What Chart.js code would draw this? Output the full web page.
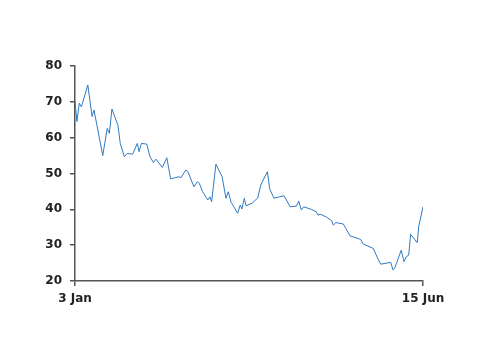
<!DOCTYPE html>
<html>
<head>
<meta charset="utf-8">
<script src="https://cdn.jsdelivr.net/npm/chart.js@4"></script>
<style>
  html, body { margin: 0; padding: 0; background: #fff; }
  #wrap { width: 500px; height: 353px; }
</style>
</head>
<body>
<div id="wrap"><canvas id="priceChart"></canvas></div>
<script>
// days since 3 Jan
const days = [0, 0.9, 2.0, 3.0, 6.0, 8.0, 8.9, 13.0, 15.1, 16.1, 17.3, 20.1, 21.2, 23.1, 24.4, 27.0,
  29.2, 30.0, 31.1, 33.6, 35.1, 36.7, 37.9, 40.9, 43.0, 44.8, 46.7, 48.7, 49.6, 51.9, 52.9,
  55.7, 57.3, 58.2, 59.8, 62.2, 63.2, 64.0, 66.0, 68.9, 70.7, 71.8, 73.1, 76.2, 77.4, 78.2,
  79.3, 80.1, 82.9, 84.5, 85.6, 87.0, 90.1, 91.2, 93.2, 97.9, 100.8, 103.7, 104.8, 106.0,
  107.1, 110.7, 113.0, 113.8, 115.1, 117.9, 120.2, 121.0, 122.2, 125.7, 127.3, 128.8, 133.8,
  135.0, 139.7, 142.1, 143.2, 147.9, 148.9, 149.7, 152.8, 154.1, 155.2, 156.3, 157.2, 160.3,
  161.0, 163];
const prices = [70.2, 64.5, 69.6, 68.6, 74.7, 65.9, 67.7, 55.0, 62.6, 61.2, 68.0, 63.5, 58.4, 54.7, 55.6, 55.4,
  58.4, 56.1, 58.4, 58.2, 54.7, 53.1, 54.0, 51.7, 54.4, 48.5, 48.8, 49.1, 48.8, 51.0, 50.5,
  46.3, 47.7, 47.3, 44.9, 42.6, 43.5, 42.1, 52.6, 49.1, 43.1, 44.9, 42.0, 38.9, 41.2, 40.1,
  43.1, 41.0, 41.7, 42.6, 43.1, 46.8, 50.5, 45.7, 43.1, 43.8, 40.7, 40.9, 42.3, 39.8,
  40.7, 40.0, 39.3, 38.4, 38.6, 37.8, 36.8, 35.6, 36.3, 35.9, 34.2, 32.6, 31.6,
  30.3, 29.1, 25.9, 24.7, 25.2, 23.1, 23.5, 28.6, 25.4, 26.8, 27.2, 33.0, 30.7,
  35.2, 40.7];
const xTickValues = [0, 163];
const xTickLabels = ['3 Jan', '15 Jun'];
const yTicks = [20, 30, 40, 50, 60, 70, 80];

const points = days.map((d, i) => ({x: d, y: prices[i]}));
const axisColor = '#555';
const tickFont = {family: 'DejaVu Sans', size: 12, weight: 'bold'};

new Chart(document.getElementById('priceChart'), {
    type: 'line',
    data: {
        datasets: [{
            data: points,
            borderColor: '#3179c0',
            borderWidth: 1,
            pointRadius: 0,
            tension: 0,
            fill: false
        }]
    },
    options: {
        responsive: true,
        maintainAspectRatio: false,
        animation: false,
        layout: {padding: {top: 66, right: 77, left: 0, bottom: 0}},
        plugins: {legend: {display: false}, tooltip: {enabled: false}},
        scales: {
            x: {
                type: 'linear',
                min: 0,
                max: 163,
                afterBuildTicks: function(scale) {
                    scale.ticks = xTickValues.map(v => ({value: v}));
                },
                afterFit: function(scale) { scale.height = 72; },
                ticks: {
                    autoSkip: false,
                    maxRotation: 0,
                    padding: 6,
                    color: '#222',
                    font: tickFont,
                    callback: function(value) {
                        return xTickLabels[xTickValues.indexOf(value)];
                    }
                },
                grid: {drawOnChartArea: false, tickLength: 5, color: axisColor, lineWidth: 1.5},
                border: {color: axisColor, width: 1.5}
            },
            y: {
                min: 20,
                max: 80,
                afterBuildTicks: function(scale) {
                    scale.ticks = yTicks.map(v => ({value: v}));
                },
                afterFit: function(scale) { scale.width = 75; },
                ticks: {
                    padding: 8,
                    color: '#222',
                    font: tickFont
                },
                grid: {drawOnChartArea: false, tickLength: 5, color: axisColor, lineWidth: 1.5},
                border: {color: axisColor, width: 1.5}
            }
        }
    }
});
</script>
</body>
</html>
